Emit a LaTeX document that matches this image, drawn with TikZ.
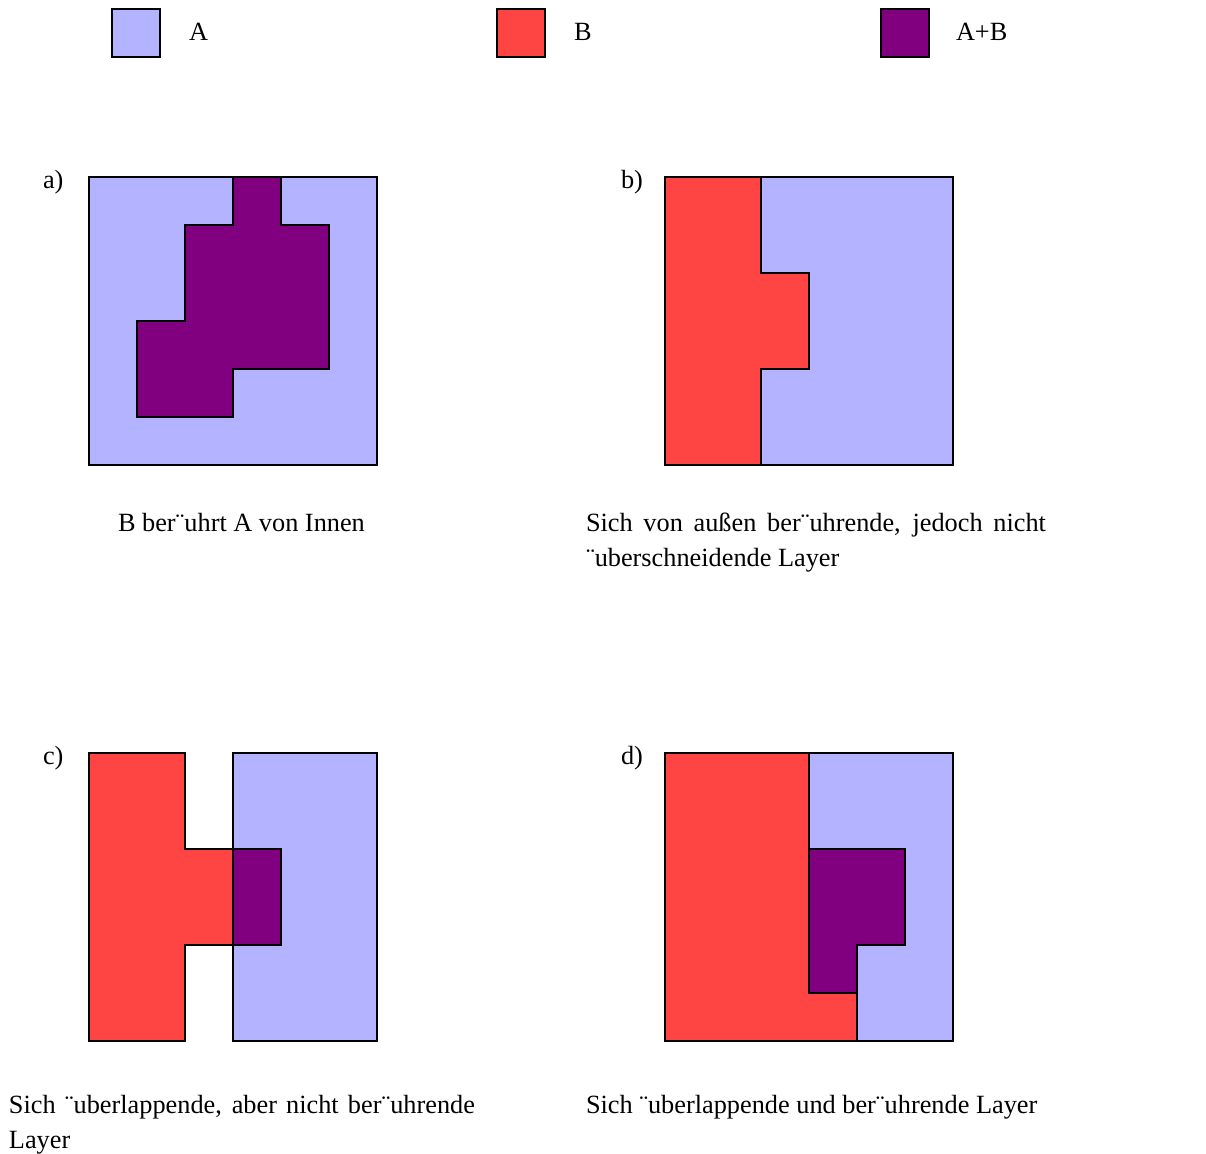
\documentclass[tikz,border=0pt]{standalone}
\usepackage{fontspec}
\setmainfont{Liberation Serif}
\usepackage{tikz}
\definecolor{layerA}{RGB}{179,179,255}
\definecolor{layerB}{RGB}{255,68,68}
\definecolor{layerAB}{RGB}{128,0,128}

\begin{document}
\begin{tikzpicture}[x=0.5pt,y=-0.5pt,line width=1pt,
    font=\fontsize{13.15}{17.5}\selectfont,
    txt/.style={inner sep=0pt,anchor=base west,align=left},
    fA/.style={draw,fill=layerA},
    fB/.style={draw,fill=layerB},
    fAB/.style={draw,fill=layerAB}]
  \useasboundingbox (0,0) rectangle (1206,1153);
  % legend
  \draw[fA] (112,9) rectangle (160,57);
  \node[txt] (legA) at (188,40) {A};
  \draw[fB] (497,9) rectangle (545,57);
  \node[txt] (legB) at (573,40) {B};
  \draw[fAB] (881,9) rectangle (929,57);
  \node[txt] (legAB) at (955,40) {A+B};
  % a)
  \node[txt] (la) at (42,188) {a)};
  \draw[fA] (89,177) rectangle (377,465);
  \draw[fAB] (233,177) -- (281,177) -- (281,225) -- (329,225) -- (329,369) -- (233,369)
    -- (233,417) -- (137,417) -- (137,321) -- (185,321) -- (185,225) -- (233,225) -- cycle;
  \node[txt] (capa) at (117,531) {B ber¨uhrt A von Innen};
  % b)
  \node[txt] (lb) at (620,188) {b)};
  \draw[fA] (761,177) rectangle (953,465);
  \draw[fB] (665,177) -- (761,177) -- (761,273) -- (809,273) -- (809,369) -- (761,369)
    -- (761,465) -- (665,465) -- cycle;
  \node[txt] (capb) at (585,566)
    {\makebox[230pt][s]{Sich von außen ber¨uhrende, jedoch nicht}\\¨uberschneidende Layer};
  % c)
  \node[txt] (lc) at (42,764) {c)};
  \draw[fB] (89,753) -- (185,753) -- (185,849) -- (233,849) -- (233,945) -- (185,945)
    -- (185,1041) -- (89,1041) -- cycle;
  \draw[fA] (233,753) rectangle (377,1041);
  \draw[fAB] (233,849) rectangle (281,945);
  \node[txt] (capc) at (8,1148)
    {\makebox[233pt][s]{Sich ¨uberlappende, aber nicht ber¨uhrende}\\Layer};
  % d)
  \node[txt] (ld) at (620,764) {d)};
  \draw[fA] (809,753) rectangle (953,1041);
  \draw[fB] (665,753) -- (809,753) -- (809,993) -- (857,993) -- (857,1041) -- (665,1041) -- cycle;
  \draw[fAB] (809,849) -- (905,849) -- (905,945) -- (857,945) -- (857,993) -- (809,993) -- cycle;
  \node[txt] (capd) at (585,1113) {Sich ¨uberlappende und ber¨uhrende Layer};
\end{tikzpicture}
\end{document}
